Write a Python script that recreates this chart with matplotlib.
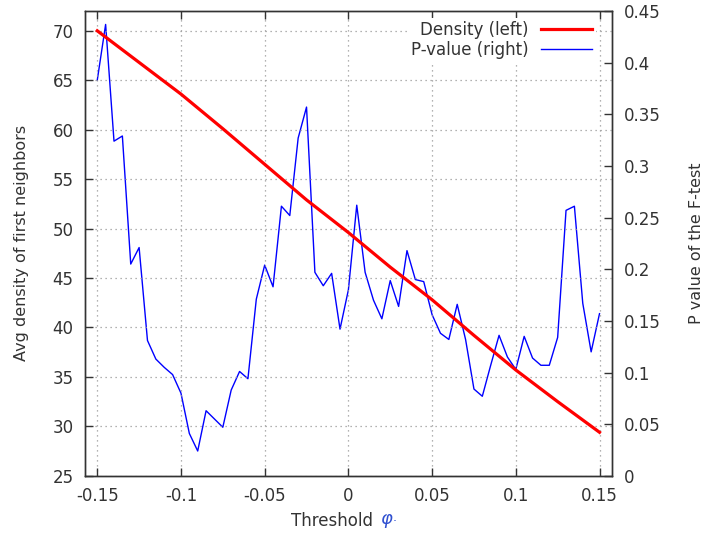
import matplotlib

matplotlib.use("Agg")
import matplotlib.pyplot as plt

# Threshold values (x axis) for the p-value series, step 0.005
threshold = [round(-0.15 + 0.005 * i, 3) for i in range(61)]

p_value = [
    0.383, 0.437, 0.324, 0.329, 0.205, 0.221, 0.131, 0.113, 0.105, 0.098,
    0.080, 0.041, 0.024, 0.063, 0.055, 0.047, 0.083, 0.101, 0.094, 0.171,
    0.204, 0.183, 0.261, 0.252, 0.327, 0.357, 0.197, 0.184, 0.196, 0.142,
    0.180, 0.262, 0.197, 0.170, 0.152, 0.189, 0.164, 0.218, 0.190, 0.188,
    0.156, 0.138, 0.132, 0.166, 0.132, 0.084, 0.077, 0.107, 0.136, 0.115,
    0.103, 0.135, 0.114, 0.107, 0.107, 0.134, 0.257, 0.261, 0.167, 0.120,
    0.157,
]

# Density (left axis), read every 0.025
density_x = [-0.15, -0.125, -0.1, -0.075, -0.05, -0.025, 0.0,
             0.025, 0.05, 0.075, 0.1, 0.125, 0.15]
density = [70.0, 66.8, 63.6, 60.1, 56.5, 52.9, 49.6,
           46.1, 42.8, 39.2, 35.7, 32.5, 29.4]

x_ticks = [-0.15, -0.1, -0.05, 0, 0.05, 0.1, 0.15]
x_tick_labels = ["-0.15", "-0.1", "-0.05", "0", "0.05", "0.1", "0.15"]
left_ticks = [25, 30, 35, 40, 45, 50, 55, 60, 65, 70]
right_ticks = [0, 0.05, 0.1, 0.15, 0.2, 0.25, 0.3, 0.35, 0.4, 0.45]
right_tick_labels = ["0", "0.05", "0.1", "0.15", "0.2", "0.25", "0.3", "0.35", "0.4", "0.45"]

TEXT = "#333333"
plt.rcParams["font.family"] = ["DejaVu Sans"]
plt.rcParams["font.size"] = 12

fig = plt.figure(figsize=(7.07, 5.40), dpi=100)
ax = fig.add_axes([0.1198, 0.1189, 0.8662 - 0.1198, 0.9796 - 0.1189])
ax2 = ax.twinx()

ax.set_zorder(2)
ax.patch.set_visible(False)

(l1,) = ax.plot(density_x, density, color="#ff0000", linewidth=2.3, label="Density (left)", zorder=3)
(l2,) = ax2.plot(threshold, p_value, color="#0000ff", linewidth=1.0, label="P-value (right)")

ax.set_xlim(-0.1575, 0.1577)
ax.set_ylim(25, 72)
ax2.set_ylim(0, 0.45)

ax.set_xticks(x_ticks)
ax.set_xticklabels(x_tick_labels)
ax.set_yticks(left_ticks)
ax2.set_yticks(right_ticks)
ax2.set_yticklabels(right_tick_labels)

ax.grid(True, color="#999999", linestyle=(0, (1, 3)), linewidth=0.9)

ax.tick_params(axis="x", direction="in", length=6, width=1.0, top=True,
               pad=8, colors="#333333", labelcolor=TEXT)
ax.tick_params(axis="y", direction="in", length=6, width=1.0, right=False,
               pad=8, colors="#333333", labelcolor=TEXT)
ax2.tick_params(axis="y", direction="in", length=6, width=1.0,
                pad=8, colors="#333333", labelcolor=TEXT)

for a in (ax, ax2):
    for s in a.spines.values():
        s.set_color("#333333")
        s.set_linewidth(1.0)

ax.set_ylabel("Avg density of first neighbors", color=TEXT, fontsize=11.5)
ax2.set_ylabel("P value of the F-test", color=TEXT, fontsize=11.5)
ax.yaxis.set_label_coords(-0.105, 0.5)
ax2.yaxis.set_label_coords(1.146, 0.5)

fig.text(0.527, 0.018, "Threshold", color=TEXT, ha="right", va="bottom", fontsize=12)
fig.text(0.537, 0.018, r"$\varphi$", color="#3050d0", ha="left", va="bottom", fontsize=13)
fig.text(0.556, 0.022, "\u00b7", color="#3050d0", ha="left", va="bottom", fontsize=9)

leg = ax.legend(handles=[l1, l2], loc="upper right", bbox_to_anchor=(0.968, 0.985),
                markerfirst=False, frameon=True, fancybox=False, edgecolor="none",
                facecolor="white", framealpha=1.0, borderaxespad=0.0, borderpad=0.2,
                handlelength=3.1, handletextpad=0.7, labelspacing=0.1,
                fontsize=12)
for t in leg.get_texts():
    t.set_color(TEXT)

fig.savefig("out.png", dpi=100)
